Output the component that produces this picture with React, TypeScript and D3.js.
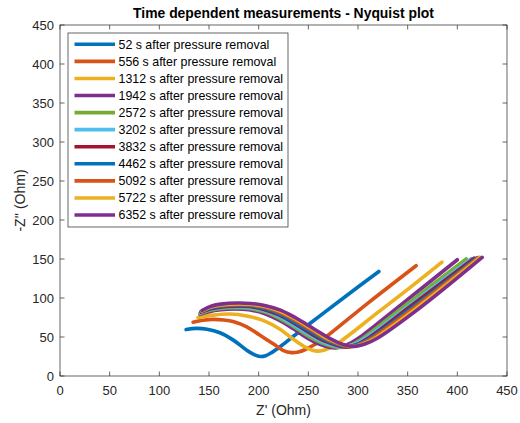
import React from "react";
import * as d3 from "d3";

// Nyquist impedance spectra recorded at increasing times after pressure removal
const TIMES = [52, 556, 1312, 1942, 2572, 3202, 3832, 4462, 5092, 5722, 6352];

const s52: [number, number][] = [[127,59.5],[137,61],[148,60],[161,55.5],[174.5,46],[188,33],[196,27],[201.5,25],[207,26],[213,30],[221.5,37.5],[235,51],[260,75.5],[290,104.5],[321,134]];
const s556: [number, number][] = [[134,69],[144,71.5],[154,72.6],[165,71.8],[175,69.5],[188,63],[201,52.5],[215,41],[225,32.5],[233,30],[240,30.8],[247,34],[256,40],[265,47.5],[310,93.5],[358.5,141.4]];
const s1312: [number, number][] = [[139,75],[154,78],[171,79.5],[188,77],[205,71],[221.5,60],[235,47],[245,38.5],[254,33],[262,32],[270,35],[282,44],[320,81.5],[352,113],[384.5,146]];
const s1942: [number, number][] = [[141,79],[150,82.5],[162,85],[176,86],[190,85],[205,80.5],[220,72],[235,60.5],[250,48],[263,40],[277,36],[288,39.5],[300,48],[340,88],[400,149]];
const s2572: [number, number][] = [[141,80],[150,84],[162,86.5],[176,87.5],[190,86.5],[205,82.5],[220,74.5],[235,63.5],[250,51],[265,41.5],[282,36.5],[293,40],[305,48.5],[345,88],[409,150]];
const s3202: [number, number][] = [[141.5,81],[150,85],[162,87.5],[176,88.5],[190,88],[205,84],[220,76.5],[235,65.5],[250,53.5],[266,43],[285,37],[296,40.5],[308,49],[350,89],[414,150.5]];
const s3832: [number, number][] = [[142,82],[151,86],[163,88.5],[177,89.5],[191,89],[206,85],[221,78],[236,67.5],[251,55.5],[268,44],[288,37],[299,40.5],[311,49],[352,88.5],[417,151]];
const s4462: [number, number][] = [[142,82.5],[151,87],[163,89.5],[177,90.5],[191,90],[206,86.5],[221,79.5],[236,69],[252,57],[269,45],[290,37.5],[301,41],[313,49],[355,88.5],[419.5,151.5]];
const s5092: [number, number][] = [[142.5,83],[151,88],[163,90.5],[177,91.5],[191,91.2],[206,88],[221,81.5],[237,71],[253,59],[270,46.5],[292,37.5],[303,41],[315,49],[357,88],[421.5,152]];
const s5722: [number, number][] = [[143,83.5],[152,88.5],[164,91.5],[178,92.5],[192,92],[207,89],[222,83],[238,72.5],[254,60],[271,47],[294,38],[305,41],[317,48.5],[360,88],[423,152]];
const s6352: [number, number][] = [[143,84],[152,89.5],[164,92.5],[178,93.5],[192,93],[206,90.5],[222,84.5],[238,74],[255,61],[272,48],[285,40.5],[296,38],[307,41],[319,48],[362,87],[425,152]];

const SERIES = [s52, s556, s1312, s1942, s2572, s3202, s3832, s4462, s5092, s5722, s6352];

const COLORS = ["#0072BD", "#D95319", "#EDB120", "#7E2F8E", "#77AC30", "#4DBEEE", "#A2142F"];

const X_TICKS = [0, 50, 100, 150, 200, 250, 300, 350, 400, 450];
const Y_TICKS = [0, 50, 100, 150, 200, 250, 300, 350, 400, 450];

const TITLE = "Time dependent measurements - Nyquist plot";
const X_LABEL = "Z' (Ohm)";
const Y_LABEL = "-Z'' (Ohm)";

const W = 520;
const H = 423;
const M = { left: 60, right: 507, top: 25, bottom: 376 };
const FONT = "Liberation Sans, Arial, Helvetica, sans-serif";
const AXIS = "#262626";

export default function App() {
  const x = d3.scaleLinear().domain([0, 450]).range([M.left, M.right]);
  const y = d3.scaleLinear().domain([0, 450]).range([M.bottom, M.top]);
  const line = d3
    .line<[number, number]>()
    .x((d) => x(d[0]))
    .y((d) => y(d[1]))
    .curve(d3.curveCatmullRom.alpha(0.5));

  const tick = 4.5;
  const legend = { x: 68, y: 33, w: 220, rowH: 17.07, first: 44.3 };
  const legendH = 194;

  return (
    <svg
      width={W}
      height={H}
      style={{ position: "absolute", left: 0, top: 0, background: "#fff" }}
      fontFamily={FONT}
    >
      <rect x={0} y={0} width={W} height={H} fill="#fff" />
      {/* curves */}
      <g fill="none" strokeWidth={3.6} strokeLinejoin="round" strokeLinecap="round">
        {SERIES.map((s, i) => (
          <path key={i} d={line(s) || ""} stroke={COLORS[i % COLORS.length]} />
        ))}
      </g>
      {/* axes box */}
      <rect
        x={M.left}
        y={M.top}
        width={M.right - M.left}
        height={M.bottom - M.top}
        fill="none"
        stroke={AXIS}
        strokeWidth={0.7}
      />
      <g stroke={AXIS} strokeWidth={0.7}>
        {X_TICKS.map((t) => (
          <g key={"x" + t}>
            <line x1={x(t)} x2={x(t)} y1={M.bottom} y2={M.bottom - tick} />
            <line x1={x(t)} x2={x(t)} y1={M.top} y2={M.top + tick} />
          </g>
        ))}
        {Y_TICKS.map((t) => (
          <g key={"y" + t}>
            <line x1={M.left} x2={M.left + tick} y1={y(t)} y2={y(t)} />
            <line x1={M.right} x2={M.right - tick} y1={y(t)} y2={y(t)} />
          </g>
        ))}
      </g>
      <g fontSize={13} fill={AXIS}>
        {X_TICKS.map((t) => (
          <text key={"xl" + t} x={x(t)} y={M.bottom + 19} textAnchor="middle">
            {t}
          </text>
        ))}
        {Y_TICKS.map((t) => (
          <text key={"yl" + t} x={M.left - 6} y={y(t) + 4.5} textAnchor="end">
            {t}
          </text>
        ))}
      </g>
      <text x={(M.left + M.right) / 2} y={415} textAnchor="middle" fontSize={14} fill={AXIS}>
        {X_LABEL}
      </text>
      <text
        transform={`translate(25,${(M.top + M.bottom) / 2}) rotate(-90)`}
        textAnchor="middle"
        fontSize={14}
        fill={AXIS}
      >
        {Y_LABEL}
      </text>
      <text
        x={(M.left + M.right) / 2}
        y={18}
        textAnchor="middle"
        fontSize={13.9}
        fontWeight="bold"
        fill="#000"
      >
        {TITLE}
      </text>
      {/* legend */}
      <rect
        x={legend.x}
        y={legend.y}
        width={legend.w}
        height={legendH}
        fill="#fff"
        stroke={AXIS}
        strokeWidth={0.7}
      />
      {TIMES.map((t, i) => {
        const cy = legend.first + i * legend.rowH;
        return (
          <g key={"lg" + t}>
            <line
              x1={74.5}
              x2={115}
              y1={cy}
              y2={cy}
              stroke={COLORS[i % COLORS.length]}
              strokeWidth={3.6}
            />
            <text x={118.5} y={cy + 4.2} fontSize={12.4} fill="#000">
              {`${t} s after pressure removal`}
            </text>
          </g>
        );
      })}
    </svg>
  );
}
